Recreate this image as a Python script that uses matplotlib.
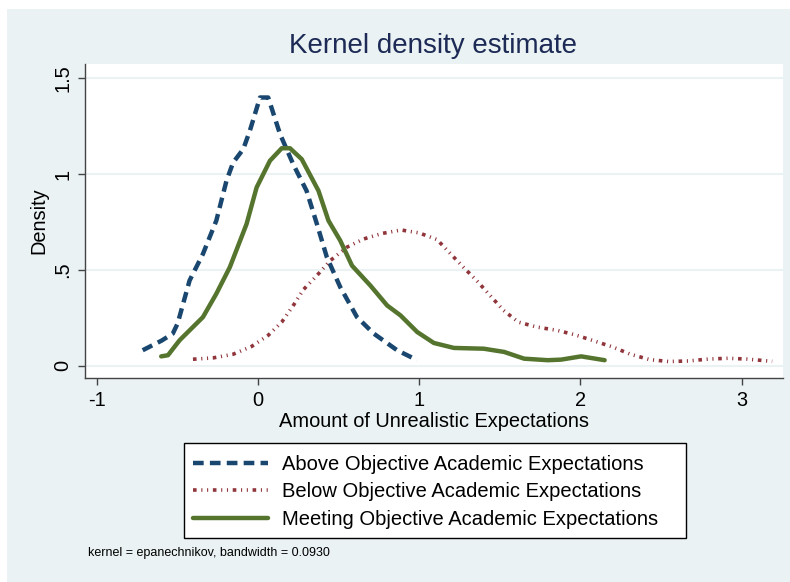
import matplotlib.pyplot as plt
from matplotlib.patches import Rectangle

plt.rcParams['font.family'] = ['Liberation Sans', 'DejaVu Sans']

# Density estimates read per group (x = amount of unrealistic expectations)
above_x = [-0.717, -0.60, -0.53, -0.50, -0.426, -0.343, -0.26, -0.197, -0.156, -0.093,
           -0.052, 0.011, 0.062, 0.135, 0.218, 0.30, 0.364, 0.426, 0.509, 0.613,
           0.717, 0.862, 0.987]
above_y = [0.080, 0.13, 0.167, 0.22, 0.444, 0.583, 0.757, 0.965, 1.06, 1.13,
           1.226, 1.40, 1.40, 1.21, 1.05, 0.913, 0.74, 0.566, 0.41, 0.253,
           0.167, 0.08, 0.028]

below_x = [-0.405, -0.28, -0.156, -0.041, 0.062, 0.146, 0.218, 0.28, 0.364, 0.447,
           0.55, 0.654, 0.769, 0.887, 0.998, 1.11, 1.19, 1.273, 1.36, 1.44,
           1.523, 1.614, 1.73, 1.855, 1.969, 2.087, 2.20, 2.31, 2.43, 2.548,
           2.67, 2.794, 2.914, 3.03, 3.19]
below_y = [0.033, 0.04, 0.059, 0.10, 0.158, 0.227, 0.314, 0.396, 0.47, 0.548,
           0.618, 0.661, 0.69, 0.708, 0.693, 0.658, 0.587, 0.514, 0.44, 0.365,
           0.288, 0.227, 0.201, 0.184, 0.16, 0.128, 0.097, 0.059, 0.031, 0.021,
           0.024, 0.034, 0.038, 0.034, 0.022]

meet_x = [-0.602, -0.56, -0.488, -0.343, -0.26, -0.176, -0.072, -0.01, 0.073, 0.146,
          0.197, 0.27, 0.374, 0.436, 0.509, 0.582, 0.696, 0.80, 0.883, 0.987,
          1.09, 1.215, 1.40, 1.527, 1.65, 1.797, 1.88, 2.004, 2.15]
meet_y = [0.048, 0.054, 0.132, 0.253, 0.375, 0.514, 0.74, 0.93, 1.07, 1.135,
          1.135, 1.078, 0.913, 0.757, 0.653, 0.522, 0.418, 0.314, 0.262, 0.175,
          0.118, 0.092, 0.088, 0.071, 0.036, 0.028, 0.031, 0.048, 0.028]

labels = ['Above Objective Academic Expectations',
          'Below Objective Academic Expectations',
          'Meeting Objective Academic Expectations']
xticks = [-1, 0, 1, 2, 3]
yticks = [0, 0.5, 1, 1.5]
ytick_labels = ['0', '.5', '1', '1.5']

navy = '#1a476f'
maroon = '#90353b'
green = '#55752f'
bg = '#eaf2f3'

W, H = 790, 582
fig = plt.figure(figsize=(W / 100, H / 100), dpi=100)
fig.patch.set_facecolor('white')
fig.add_artist(Rectangle((7 / W, 0), 1, 1 - 9 / H, transform=fig.transFigure,
                         facecolor=bg, edgecolor='none', zorder=-10))

ax = fig.add_axes([85 / W, 1 - 378 / H, (783 - 85) / W, (378 - 64) / H])
ax.set_facecolor('white')

l1, = ax.plot(above_x, above_y, color=navy, lw=3.2, dashes=(2.4, 1.4),
              dash_capstyle='butt', label=labels[0])
l2, = ax.plot(below_x, below_y, color=maroon, lw=2.6,
              dashes=(1, 1.3, 0.3, 1.3, 0.3, 1.3), dash_capstyle='butt', label=labels[1])
l3, = ax.plot(meet_x, meet_y, color=green, lw=3.2, solid_capstyle='round', label=labels[2])

ax.set_xlim(-1.075, 3.257)
ax.set_ylim(-0.065, 1.575)
ax.set_xticks(xticks)
ax.set_xticklabels([str(t) for t in xticks])
ax.set_yticks(yticks)
ax.set_yticklabels(ytick_labels, rotation=90, va='center')
ax.grid(axis='y', color=bg, lw=1.5)
ax.set_axisbelow(True)

for s in ['top', 'right']:
    ax.spines[s].set_visible(False)
for s in ['left', 'bottom']:
    ax.spines[s].set_color('#444444')
    ax.spines[s].set_linewidth(1)
ax.tick_params(direction='out', length=5, width=1, color='#444444',
               labelsize=14.4, pad=4)

ax.set_xlabel('Amount of Unrealistic Expectations', fontsize=14.4, labelpad=2)
ax.set_ylabel('Density', fontsize=14.4, labelpad=4)

fig.text(433 / W, 1 - 46 / H, 'Kernel density estimate', fontsize=20,
         color='#1c2a55', ha='center', va='center')

# legend box drawn separately so the right-hand padding stays wide
fig.add_artist(Rectangle((184 / W, 1 - 538 / H), (686 - 184) / W, (538 - 443) / H,
                         transform=fig.transFigure, facecolor='white',
                         edgecolor='black', lw=1, zorder=2))
leg = fig.legend(handles=[l1, l2, l3], loc='upper left',
                 bbox_to_anchor=(193 / W, 1 - 455 / H),
                 fontsize=14.5, handlelength=3.7, handletextpad=0.7,
                 labelspacing=0.42, borderpad=0, borderaxespad=0,
                 frameon=False)
leg.set_zorder(3)

fig.text(88 / W, 1 - 553 / H, 'kernel = epanechnikov, bandwidth = 0.0930',
         fontsize=9, ha='left', va='center')

fig.savefig('out.png', dpi=100, facecolor=fig.get_facecolor())
